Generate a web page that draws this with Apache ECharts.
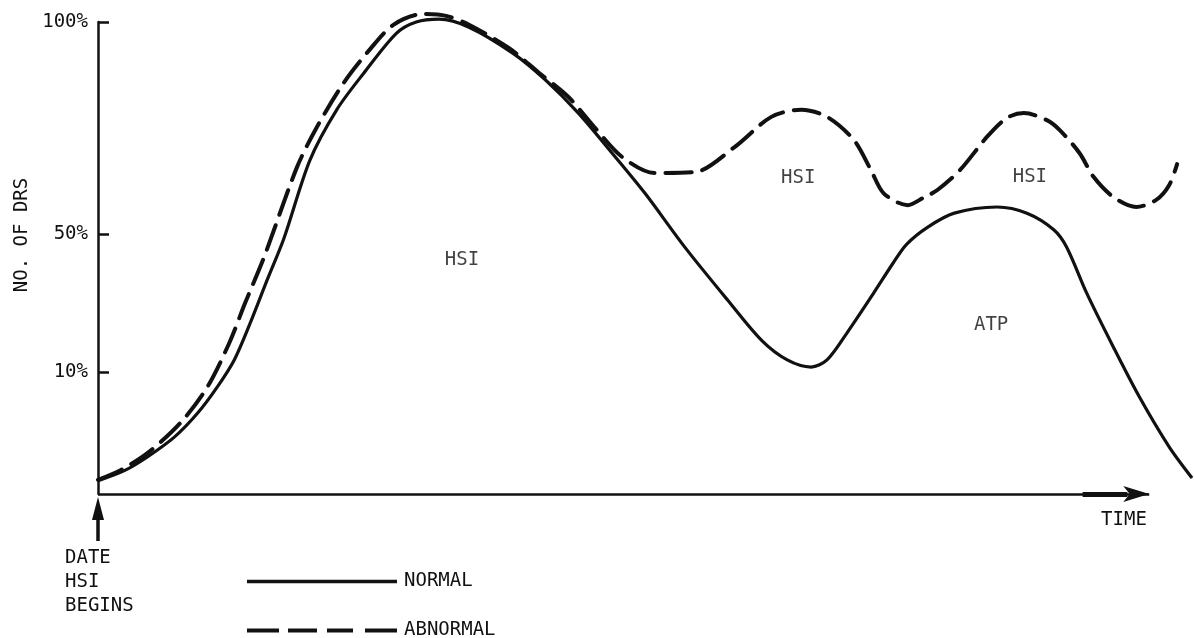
<!DOCTYPE html>
<html><head><meta charset="utf-8">
<script src="https://cdn.jsdelivr.net/npm/echarts@6/dist/echarts.min.js"></script>
<style>html,body{margin:0;padding:0;background:#fff}#c{width:1194px;height:638px}</style>
</head><body><div id="c"></div>
<script>
// Time (arbitrary units from HSI start) and relative height of the curves (0 = axis, 100 = 100% tick)
const normalX = [0, 27, 50, 77, 100, 120, 137, 153, 170, 187, 213, 240, 267, 300, 320, 343, 373, 417, 450, 483, 517, 550, 590, 633, 667, 693, 717, 733, 753, 780, 800, 813, 834, 861, 904, 934, 961, 974, 994, 1021, 1047, 1077, 1100];
const normalY = [2.8, 5.0, 7.9, 12.1, 17.1, 22.7, 28.4, 36.2, 45.3, 54.2, 70.7, 81.4, 89.1, 97.6, 100, 100.6, 98.9, 93.4, 87.7, 80.7, 72.2, 63.7, 52.3, 41.1, 32.6, 28.4, 26.9, 28.4, 34.1, 42.6, 49.1, 52.9, 56.5, 59.5, 60.8, 59.5, 56.0, 52.3, 42.6, 31.1, 20.6, 10.0, 3.4];
const abnormalX = [0, 23, 50, 83, 110, 132, 148, 167, 200, 220, 247, 273, 297, 327, 350, 373, 413, 443, 473, 500, 527, 560, 600, 640, 677, 707, 733, 760, 777, 790, 814, 831, 844, 867, 894, 914, 931, 954, 967, 987, 1001, 1021, 1044, 1064, 1077, 1085];
const abnormalY = [3.0, 5.1, 8.7, 15.1, 22.7, 32.0, 40.5, 50.2, 69.2, 77.7, 87.1, 94.1, 99.4, 101.7, 101.3, 99.4, 94.5, 89.3, 84.1, 77.5, 71.4, 68.0, 68.2, 73.5, 79.9, 81.4, 79.9, 75.0, 68.7, 63.7, 61.2, 62.9, 64.4, 68.7, 75.7, 79.7, 80.7, 79.2, 77.1, 72.2, 67.2, 62.9, 60.8, 62.3, 65.4, 69.9];

const yTickValues = [25.8, 55.1, 100];
const yTickLabels = ['10%', '50%', '100%'];

const regionLabels = ['HSI', 'HSI', 'HSI', 'ATP'];
const regionX = [366, 704, 937, 898];
const regionY = [49.6, 66.9, 67.2, 35.8];

const timeAxisEnd = 1057;       // arrow tip of the time axis
const timeArrowShaft = [990, 1035];

const seriesNames = ['NORMAL', 'ABNORMAL'];
const yTitle = 'NO. OF DRS';
const xTitle = 'TIME';
const startNote = 'DATE\nHSI\nBEGINS';

const FONT = 'DejaVu Sans Mono';
const FS = 19;
const INK = '#111';

const chart = echarts.init(document.getElementById('c'), null, {renderer: 'canvas'});
const zip = (xs, ys) => xs.map((x, i) => [x, ys[i]]);

chart.setOption({
  animation: false,
  backgroundColor: '#fff',
  grid: {left: 98, right: -6, top: 22, bottom: 144, containLabel: false},
  xAxis: {
    type: 'value', min: 0, max: 1102,
    splitLine: {show: false}, axisTick: {show: false}, axisLabel: {show: false},
    axisLine: {show: false}
  },
  yAxis: {
    type: 'value', min: 0, max: 100,
    splitLine: {show: false},
    axisLine: {show: true, onZero: false, lineStyle: {color: INK, width: 2.5}},
    axisTick: {show: true, inside: true, length: 11, customValues: yTickValues,
      lineStyle: {color: INK, width: 2.5}},
    axisLabel: {show: true, margin: 10, customValues: yTickValues, padding: [4, 0, 0, 0],
      formatter: v => yTickLabels[yTickValues.indexOf(v)] || '',
      fontFamily: FONT, fontSize: FS, color: INK}
  },
  legend: [
    {data: [{name: seriesNames[0], icon: 'rect'}], left: 242, top: 567, itemWidth: 150, itemHeight: 3.5,
      selectedMode: false, textStyle: {fontFamily: FONT, fontSize: FS, color: INK, padding: [0, 0, 0, 2]}},
    {data: [{name: seriesNames[1],
        icon: 'path://M0,0h32v4h-32zM41,0h29v4h-29zM80,0h26v4h-26zM118,0h32v4h-32z'}],
      left: 242, top: 616, itemWidth: 150, itemHeight: 4,
      selectedMode: false, textStyle: {fontFamily: FONT, fontSize: FS, color: INK, padding: [0, 0, 0, 2]}}
  ],
  series: [
    {name: seriesNames[0], type: 'line', data: zip(normalX, normalY), smooth: 0.3,
      symbol: 'none', clip: false, lineStyle: {color: INK, width: 3.2}, itemStyle: {color: INK},
      markLine: {
        silent: true, animation: false, label: {show: false},
        data: [
          [{coord: [0, 0], symbol: 'none', lineStyle: {width: 2.5}},
           {coord: [timeAxisEnd, 0], symbol: 'arrow', symbolSize: [12, 26]}],
          [{coord: [timeArrowShaft[0], 0], symbol: 'none', lineStyle: {width: 5}},
           {coord: [timeArrowShaft[1], 0], symbol: 'none'}]
        ],
        lineStyle: {color: INK, type: 'solid', width: 2.5}
      }},
    {name: seriesNames[1], type: 'line', data: zip(abnormalX, abnormalY), smooth: 0.3,
      symbol: 'none', clip: false, lineStyle: {color: INK, width: 4, type: [26, 11], cap: 'round'}, itemStyle: {color: INK}},
    {name: 'labels', type: 'scatter', symbolSize: 1, itemStyle: {color: 'rgba(0,0,0,0)'},
      data: regionLabels.map((t, i) => ({name: t, value: [regionX[i], regionY[i]]})),
      label: {show: true, position: 'inside', formatter: '{b}', fontFamily: FONT, fontSize: FS,
        color: INK, textBorderWidth: 0},
      silent: true}
  ],
  graphic: [
    {type: 'text', x: 22, y: 235, rotation: Math.PI / 2,
      style: {text: yTitle, fontFamily: FONT, fontSize: FS, fill: INK, align: 'center', verticalAlign: 'middle'}},
    {type: 'text', x: 1124, y: 520,
      style: {text: xTitle, fontFamily: FONT, fontSize: FS, fill: INK, align: 'center', verticalAlign: 'middle'}},
    {type: 'text', x: 65, y: 546,
      style: {text: startNote, fontFamily: FONT, fontSize: FS, lineHeight: 24, fill: INK, align: 'left', verticalAlign: 'top'}},
    {type: 'line', shape: {x1: 98, y1: 541, x2: 98, y2: 510}, style: {stroke: INK, lineWidth: 3.5}},
    {type: 'polygon', shape: {points: [[92, 520], [98, 497], [104, 520]]}, style: {fill: INK}}
  ]
});
</script>
</body></html>
